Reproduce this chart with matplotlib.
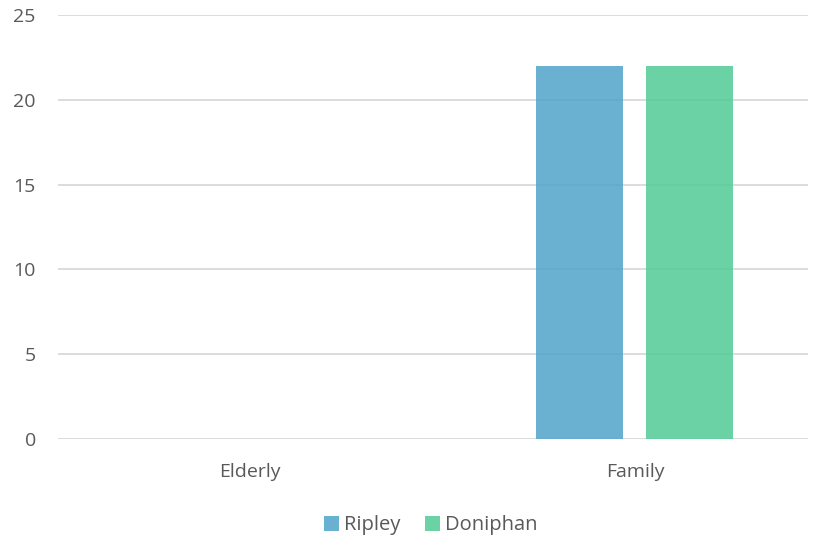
import matplotlib.pyplot as plt
import numpy as np

# chart data
categories = ['Elderly', 'Family']
ripley = [0, 22]
doniphan = [0, 22]
y_ticks = [0, 5, 10, 15, 20, 25]

plt.rcParams['font.family'] = ['Open Sans', 'DejaVu Sans']

fig = plt.figure(figsize=(8.21, 5.37), dpi=100)
ax = fig.add_axes([58/821, 1-439/537, (808-58)/821, (439-15)/537])

x = np.arange(len(categories))
w = 0.226
off = 0.143
ax.bar(x - off, ripley, w, color='#50A3C9', alpha=0.85, label='Ripley', zorder=3)
ax.bar(x + off, doniphan, w, color='#50CB96', alpha=0.85, label='Doniphan', zorder=3)

ax.set_xlim(-0.5, 1.45)
ax.set_ylim(0, 25)
ax.set_yticks(y_ticks)
ax.set_xticks(x)
ax.set_xticklabels(categories)
ax.grid(axis='y', color='#d9d9d9', linewidth=1.3, zorder=0)
for s in ax.spines.values():
    s.set_visible(False)
ax.tick_params(length=0, colors='#595959', labelsize=14)
ax.tick_params(axis='y', pad=16)
ax.tick_params(axis='x', pad=17)

ax.legend(loc='upper center', bbox_to_anchor=(0.497, -0.137), ncol=2, frameon=False,
          fontsize=14.5, handlelength=0.75, handleheight=0.75, handletextpad=0.25,
          columnspacing=1.2, labelcolor='#595959')

fig.savefig('out.png', dpi=100)
